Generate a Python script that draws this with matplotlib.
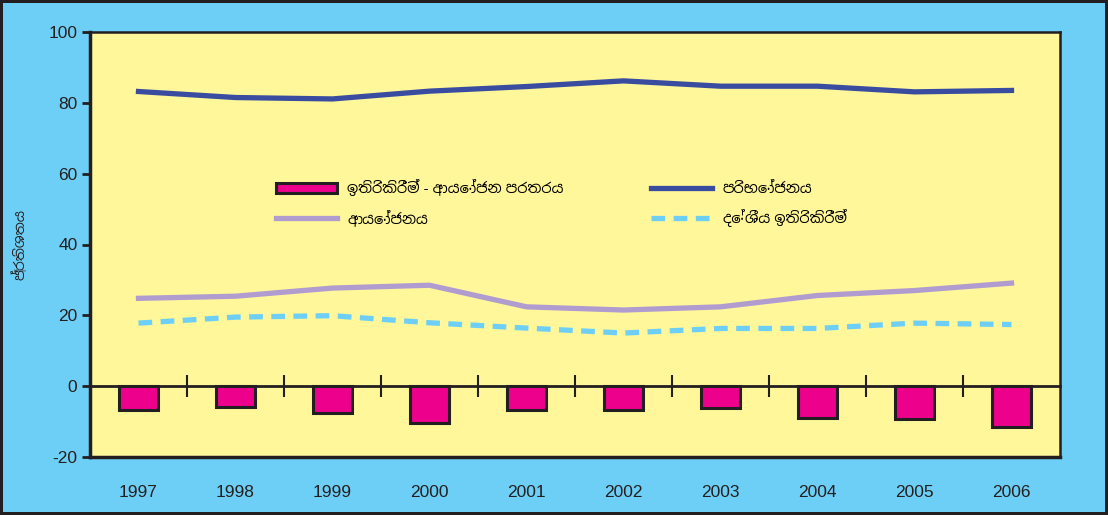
import matplotlib
matplotlib.use("Agg")
import matplotlib.pyplot as plt
from matplotlib import font_manager
import numpy as np

years = ["1997", "1998", "1999", "2000", "2001", "2002", "2003", "2004", "2005", "2006"]
consumption = [83.2, 81.5, 81.1, 83.3, 84.6, 86.2, 84.7, 84.7, 83.1, 83.5]
investment = [24.8, 25.4, 27.7, 28.5, 22.4, 21.5, 22.4, 25.6, 27.0, 29.1]
domestic_savings = [17.8, 19.5, 19.9, 17.9, 16.4, 15.0, 16.3, 16.3, 17.8, 17.4]
savings_gap = [-6.8, -5.8, -7.7, -10.5, -6.7, -6.7, -6.1, -9.1, -9.3, -11.6]

lbl_gap = "ඉතිරිකිරීම් - ආයෝජන පරතරය"
lbl_cons = "පරිභෝජනය"
lbl_inv = "ආයෝජනය"
lbl_sav = "දේශීය ඉතිරිකිරීම්"
ylabel = "ප්‍රතිශතය"

# try to find a Sinhala-capable font if one exists
fams = []
for f in font_manager.fontManager.ttflist:
    if "sinhala" in f.name.lower() or "iskoola" in f.name.lower():
        fams.append(f.name)
fams = ["Liberation Sans"] + list(dict.fromkeys(fams)) + ["DejaVu Sans"]
plt.rcParams["font.family"] = fams
plt.rcParams["axes.unicode_minus"] = False

fig = plt.figure(figsize=(11.08, 5.15), dpi=100)
fig.patch.set_facecolor("#6DCFF6")
fig.patch.set_edgecolor("#231F20")
fig.patch.set_linewidth(3)

ax = fig.add_axes([90/1108, 1-457/515, 970/1108, 425/515])
ax.set_facecolor("#FFF799")
x = np.arange(len(years))

bars = ax.bar(x, savings_gap, width=0.4, color="#EC008C", edgecolor="#231F20",
              linewidth=2.2, zorder=3, label=lbl_gap)
l_inv, = ax.plot(x, investment, color="#B19CD0", lw=3.8, zorder=4, label=lbl_inv)
l_cons, = ax.plot(x, consumption, color="#3A4CA0", lw=3.8, zorder=4, label=lbl_cons)
l_sav, = ax.plot(x, domestic_savings, color="#6DCFF6", lw=3.8, zorder=4,
                 dashes=(2.6, 1.6), label=lbl_sav)

ax.set_xlim(-0.5, len(years) - 0.5)
ax.set_ylim(-20, 100)
ax.set_yticks(np.arange(-20, 101, 20))
ax.tick_params(axis="y", labelsize=12.5, length=6, width=2, colors="#231F20", pad=3)
ax.set_xticks(x)
ax.set_xticklabels(years)
ax.tick_params(axis="x", labelsize=12.5, length=0, pad=20, colors="#231F20")
for s in ax.spines.values():
    s.set_color("#231F20")
    s.set_linewidth(1.8)
ax.spines["left"].set_linewidth(2.5)
ax.spines["bottom"].set_linewidth(2.5)

# zero axis with tick marks at category boundaries
zero_loc = (0 - (-20)) / 120
sec = ax.secondary_xaxis(zero_loc)
sec.set_xticks(np.arange(0.5, len(years) - 1, 1.0))
sec.tick_params(axis="x", direction="inout", length=16, width=1.5,
                colors="#231F20", labelbottom=False, labeltop=False)
sec.spines["bottom"].set_linewidth(2.0)
sec.spines["bottom"].set_color("#231F20")

ax.set_ylabel(ylabel, fontsize=10, color="#231F20")
ax.yaxis.set_label_coords(-0.064, 0.5)

leg = ax.legend(handles=[bars, l_inv, l_cons, l_sav], ncol=2, loc="upper left",
                bbox_to_anchor=(0.178, 0.685), frameon=False, fontsize=10.5,
                handlelength=4.2, columnspacing=6.0, labelspacing=0.9, handletextpad=0.7)

fig.savefig("out.png", dpi=100, facecolor=fig.get_facecolor(),
            edgecolor=fig.get_edgecolor())
